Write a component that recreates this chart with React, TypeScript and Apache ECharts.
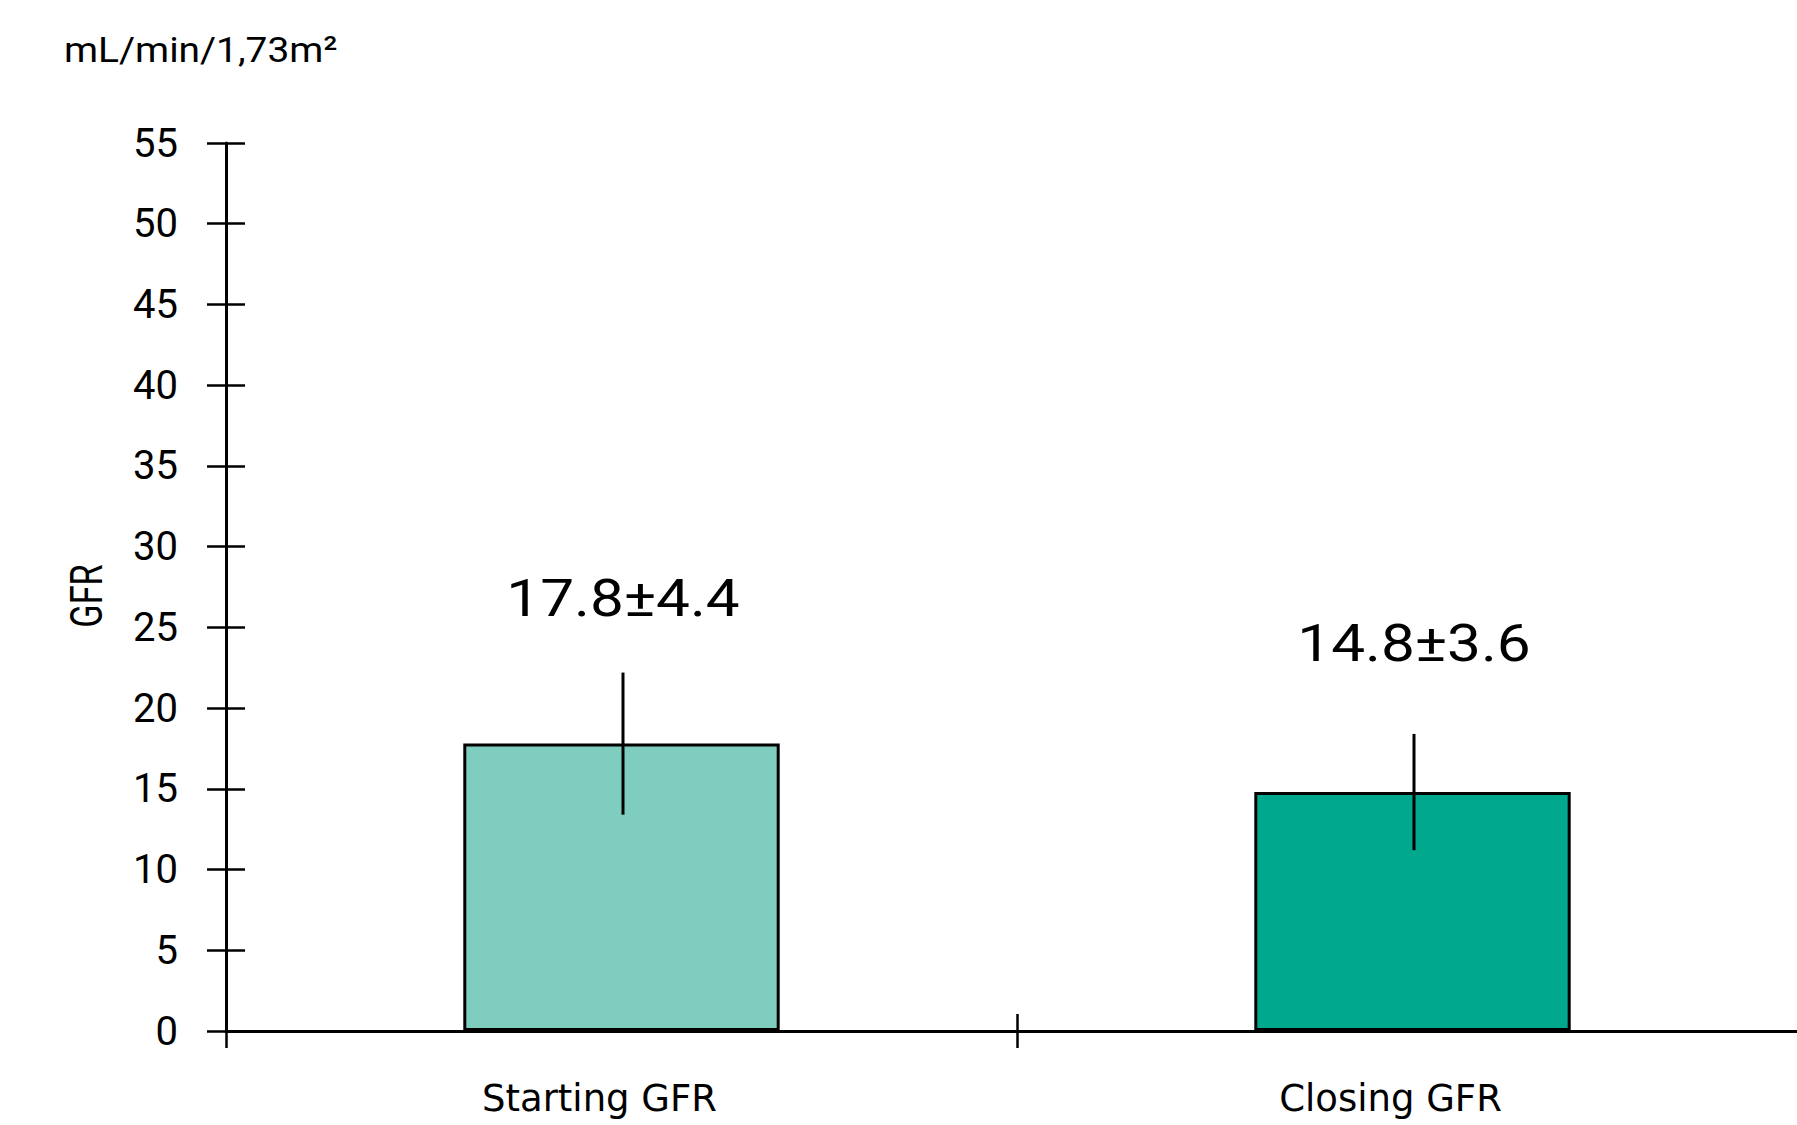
import React, { useEffect, useRef } from "react";
import * as echarts from "echarts";

const categories = ["Starting GFR", "Closing GFR"];
const means = [17.8, 14.8];
const sds = [4.4, 3.6];
const valueLabels = ["17.8±4.4", "14.8±3.6"];
const yMin = 0;
const yMax = 55;
const yInterval = 5;
const unitText = "mL/min/1,73m²";
const yName = "GFR";

const barColors = ["#7fcdbf", "#00a88e"];
const labelGaps = [74, 90];

export default function App() {
  const ref = useRef<HTMLDivElement>(null);
  useEffect(() => {
    document.body.style.margin = "0";
    document.body.style.overflow = "hidden";
    const chart = echarts.init(ref.current!, null, { renderer: "svg" });
    const tickStyle = { color: "#000", width: 2.5 };
    chart.setOption({
      animation: false,
      backgroundColor: "#fff",
      grid: { left: 226, top: 143, right: 0, bottom: 94 },
      graphic: [
        {
          type: "text",
          x: 64,
          y: 50,
          scaleX: 1.08,
          style: {
            text: unitText,
            fontFamily: "Roboto",
            fontSize: 36,
            fill: "#000",
            align: "left",
            verticalAlign: "middle",
          },
        },
        {
          type: "text",
          x: 87,
          y: 596,
          rotation: Math.PI / 2,
          scaleX: 0.78,
          style: {
            text: yName,
            fontFamily: "Roboto",
            fontSize: 44,
            fill: "#000",
            align: "center",
            verticalAlign: "middle",
          },
        },
      ],
      xAxis: [
        {
          type: "category",
          data: categories,
          position: "bottom",
          axisLine: { lineStyle: { color: "#000", width: 3 } },
          axisTick: { show: true, interval: 0, length: 17, lineStyle: tickStyle },
          axisLabel: {
            interval: 0,
            margin: 49,
            fontFamily: "DejaVu Sans",
            fontSize: 37,
            color: "#000",
            padding: [0, 44, 0, 0],
          },
          splitLine: { show: false },
        },
        {
          type: "category",
          data: categories,
          position: "bottom",
          axisLine: { show: false },
          axisTick: { show: true, interval: 0, inside: true, length: 17, lineStyle: tickStyle },
          axisLabel: { show: false },
          splitLine: { show: false },
        },
      ],
      yAxis: [
        {
          type: "value",
          min: yMin,
          max: yMax,
          interval: yInterval,
          position: "left",
          axisLine: { show: true, lineStyle: { color: "#000", width: 3 } },
          axisTick: { show: true, length: 19, lineStyle: tickStyle },
          axisLabel: {
            margin: 48,
            fontFamily: "Roboto",
            fontSize: 40,
            color: "#000",
          },
          splitLine: { show: false },
        },
        {
          type: "value",
          min: yMin,
          max: yMax,
          interval: yInterval,
          position: "left",
          axisLine: { show: false },
          axisTick: { show: true, inside: true, length: 19, lineStyle: tickStyle },
          axisLabel: { show: false },
          splitLine: { show: false },
        },
      ],
      series: [
        {
          type: "bar",
          xAxisIndex: 0,
          yAxisIndex: 0,
          barWidth: "40%",
          z: 2,
          data: means.map((v, i) => ({
            value: v,
            itemStyle: { color: barColors[i], borderColor: "#000", borderWidth: 3 },
          })),
        },
        {
          type: "custom",
          xAxisIndex: 0,
          yAxisIndex: 0,
          z: 5,
          encode: { x: 0, y: 1 },
          data: means.map((m, i) => [i, m, sds[i]]),
          renderItem: (params: any, api: any) => {
            const idx = params.dataIndex;
            const i = api.value(0);
            const m = api.value(1);
            const e = api.value(2);
            const top = api.coord([i, m + e]);
            const bot = api.coord([i, m - e]);
            return {
              type: "group",
              children: [
                {
                  type: "line",
                  shape: { x1: top[0] + 1.5, y1: top[1], x2: bot[0] + 1.5, y2: bot[1] },
                  style: { stroke: "#000", lineWidth: 3 },
                },
                {
                  type: "text",
                  x: top[0] + 1.5,
                  y: top[1] - labelGaps[idx],
                  scaleX: 1.16,
                  style: {
                    text: valueLabels[idx],
                    fontFamily: "Roboto",
                    fontSize: 52,
                    fill: "#000",
                    align: "center",
                    verticalAlign: "middle",
                  },
                },
              ],
            };
          },
        },
      ],
    });
    return () => chart.dispose();
  }, []);
  return (
    <div
      ref={ref}
      style={{ position: "absolute", left: 0, top: 0, width: 1808, height: 1125 }}
    />
  );
}
